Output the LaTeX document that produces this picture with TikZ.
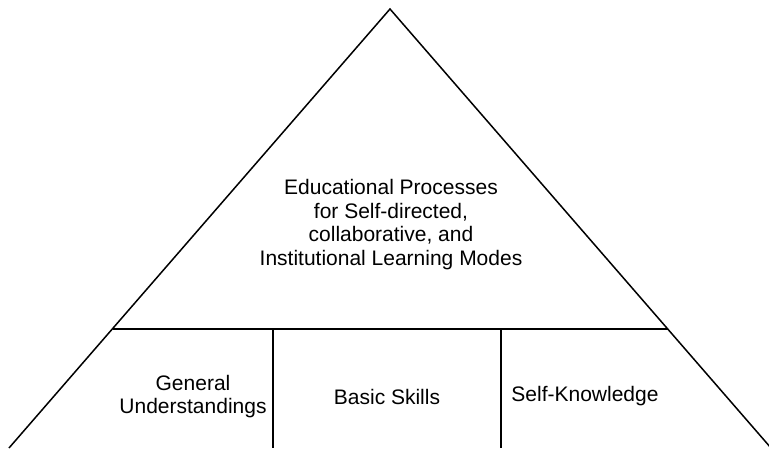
\documentclass[tikz,border=0pt]{standalone}
\usepackage{fontspec}
\setmainfont{Liberation Sans}
\begin{document}
\begin{tikzpicture}[x=1pt,y=1pt,
  edge/.style={draw=black,line width=1.5pt},
  lbl/.style={align=center,font=\fontsize{21}{23.5}\selectfont,inner sep=0pt}]
\useasboundingbox (0,0) rectangle (769,448);
\coordinate (apex) at (390,439);
\coordinate (bl) at (9,0);
\coordinate (br) at (771,0);
\coordinate (hl) at (113,119);
\coordinate (hr) at (668,119);
\coordinate (v1t) at (273,119);
\coordinate (v1b) at (273,0);
\coordinate (v2t) at (501,119);
\coordinate (v2b) at (501,0);
\begin{scope}
\clip (0,0) rectangle (769,448);
\draw[edge] (bl) -- (apex) -- (br);
\draw[edge] (hl) -- (hr);
\draw[edge] (v1t) -- (v1b);
\draw[edge] (v2t) -- (v2b);
\end{scope}
\node[lbl] (top) at (391,223.5) {Educational Processes\\for Self-directed,\\collaborative, and\\Institutional Learning Modes};
\node[lbl] (gu) at (193,51.5) {General\\Understandings};
\node[lbl] (bs) at (387,51.5) {Basic Skills};
\node[lbl] (sk) at (585,51.5) {Self-Knowledge};
\end{tikzpicture}
\end{document}
